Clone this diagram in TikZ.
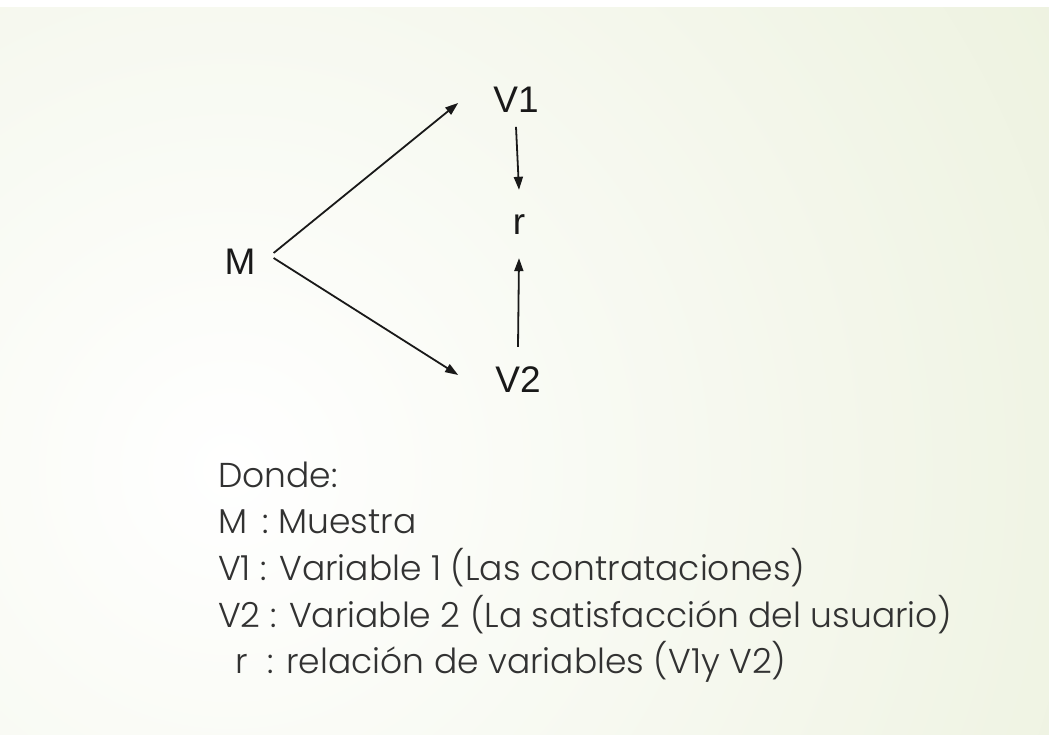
\documentclass[tikz,border=0pt]{standalone}
\usepackage{fontspec}
\setmainfont{Liberation Sans}
\newfontfamily\gothic{Poppins}[UprightFont=* Light]
\usetikzlibrary{arrows.meta}
\definecolor{bggreen}{RGB}{224,232,200}
\definecolor{ink}{RGB}{25,25,25}
\definecolor{txt}{RGB}{50,50,50}
\tikzset{
  lab/.style={inner sep=0pt, text=ink, font=\fontsize{37}{40}\selectfont},
  arr/.style={line width=1.8pt, draw=ink, -{Triangle[length=13pt,width=9pt]}},
  legend/.style={inner sep=0pt, anchor=base west, text=txt, font=\gothic\fontsize{34.5}{40}\selectfont}
}
\begin{document}
\begin{tikzpicture}[x=1pt,y=-1pt]
\useasboundingbox (0,0) rectangle (1049,735);
\fill[white] (0,0) rectangle (1049,735);
\begin{scope}
  \clip (0,8) rectangle (1049,735);
  \shade[inner color=white, outer color=bggreen] (230,470) circle (1700);
\end{scope}

\node[lab] (M) at (240,262) {M};
\node[lab] (V1) at (516,100) {V1};
\node[lab] (r) at (519,225) {r};
\node[lab] (V2) at (518,380) {V2};

\draw[arr] ([xshift=18pt,yshift=9pt]M.east) -- ([xshift=-35pt,yshift=-3pt]V1.west);
\draw[arr] ([xshift=18pt,yshift=4pt]M.east) -- ([xshift=-37pt,yshift=5pt]V2.west);
\draw[arr] ([yshift=-14pt]V1.south) -- ([yshift=25pt]r.north);
\draw[arr] ([yshift=20pt]V2.north) -- ([yshift=-23pt]r.south);

\node[legend] (l0) at (218,487) {Donde:};
\node[legend] (l1) at (218,533) {M\hspace{0.45em}: Muestra};
\node[legend] (l2) at (218,580) {V1 : Variable 1 (Las contrataciones)};
\node[legend] (l3) at (218,627) {V2 : Variable 2 (La satisfacción del usuario)};
\node[legend] (l4) at (235,673) {r\hspace{0.3em} : relación de variables (V1y V2)};
\end{tikzpicture}
\end{document}
